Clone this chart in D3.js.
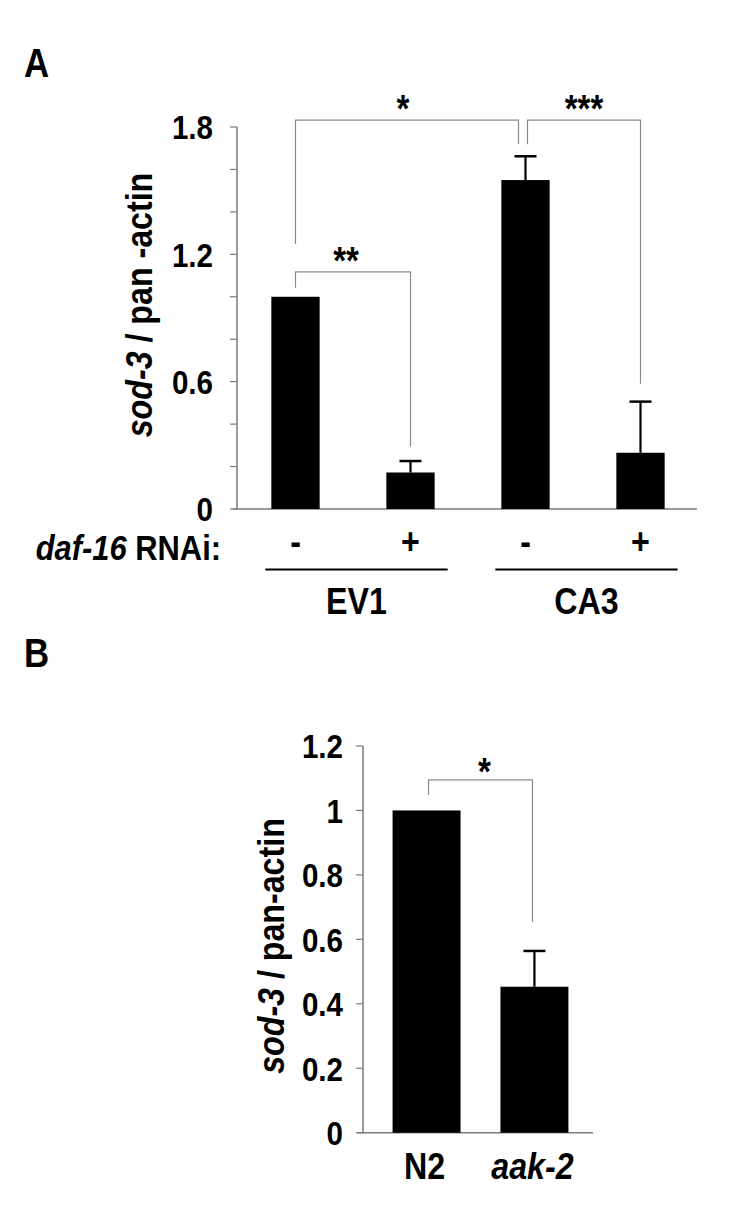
<!DOCTYPE html>
<html>
<head>
<meta charset="utf-8">
<script src="https://cdn.jsdelivr.net/npm/d3@7"></script>
<style>
  html, body { margin: 0; padding: 0; background: #fff; }
  svg { display: block; }
  text { font-family: "Liberation Sans", Arial, Helvetica, sans-serif; font-weight: bold; fill: #000; }
</style>
</head>
<body>
<svg id="chart" width="750" height="1225"></svg>
<script>
// ---------- DATA ----------
// Panel A
const conditionsA = ["EV1 -", "EV1 +", "CA3 -", "CA3 +"];
const rnaiSignsA = ["-", "+", "-", "+"];
const strainsA = ["EV1", "CA3"];
const meansA = [1.0, 0.172, 1.55, 0.265];
const errorsA = [0, 0.054, 0.112, 0.241];
const ticksA = [0, 0.6, 1.2, 1.8];
const minorTicksA = [0, 0.2, 0.4, 0.6, 0.8, 1.0, 1.2, 1.4, 1.6, 1.8];
const sigLabelsA = ["**", "*", "***"];
const sigPairsA = [[0, 1], [0, 2], [2, 3]];

// Panel B
const strainsB = ["N2", "aak-2"];
const meansB = [1.0, 0.453];
const errorsB = [0, 0.111];
const ticksB = [0, 0.2, 0.4, 0.6, 0.8, 1, 1.2];
const sigLabelsB = ["*"];
const sigPairsB = [[0, 1]];

// ---------- DRAW ----------
const svg = d3.select("#chart");
const axisColor = "#7a7a7a";
const SX = 0.87;               // horizontal condensing (Helvetica Condensed look)
const fontTick = 34, fontLabel = 37, fontStar = 38;
const tf = (x, y, rot) => `translate(${x},${y})` + (rot ? ` rotate(${rot})` : "") + ` scale(${SX},1)`;

// Panel letters
svg.append("text").attr("transform", tf(24, 77)).attr("font-size", 40).text("A");
svg.append("text").attr("transform", tf(24, 667)).attr("font-size", 40).text("B");

// ===== Panel A =====
const yA = d3.scaleLinear().domain([0, 1.8]).range([509, 127]);
const xA = d3.scaleBand().domain(conditionsA).range([238, 698]).paddingInner(0.58).paddingOuter(0.29);
const axisXA = 237;
const cxA = d => xA(d) + xA.bandwidth() / 2;

const gA = svg.append("g");
gA.append("line").attr("x1", axisXA).attr("x2", axisXA).attr("y1", yA(1.8)).attr("y2", yA(0))
  .attr("stroke", axisColor).attr("stroke-width", 1.5);
gA.append("line").attr("x1", axisXA - 4).attr("x2", 697).attr("y1", yA(0)).attr("y2", yA(0))
  .attr("stroke", axisColor).attr("stroke-width", 1.5);
gA.selectAll(".mt").data(minorTicksA).join("line")
  .attr("x1", axisXA - 7).attr("x2", axisXA).attr("y1", d => yA(d)).attr("y2", d => yA(d))
  .attr("stroke", axisColor).attr("stroke-width", 1.2);
gA.selectAll(".tl").data(ticksA).join("text")
  .attr("transform", d => tf(axisXA - 24, yA(d))).attr("dy", "0.36em")
  .attr("text-anchor", "end").attr("font-size", fontTick)
  .text(d => d3.format("")(d));

gA.selectAll(".bar").data(conditionsA).join("rect")
  .attr("x", d => xA(d)).attr("width", xA.bandwidth())
  .attr("y", (d, i) => yA(meansA[i])).attr("height", (d, i) => yA(0) - yA(meansA[i]))
  .attr("fill", "#000");
conditionsA.forEach((c, i) => {
  if (errorsA[i] <= 0) return;
  const cx = cxA(c);
  gA.append("line").attr("x1", cx).attr("x2", cx).attr("y1", yA(meansA[i])).attr("y2", yA(meansA[i] + errorsA[i]))
    .attr("stroke", "#000").attr("stroke-width", 2.2);
  gA.append("line").attr("x1", cx - 11).attr("x2", cx + 11).attr("y1", yA(meansA[i] + errorsA[i])).attr("y2", yA(meansA[i] + errorsA[i]))
    .attr("stroke", "#000").attr("stroke-width", 2.5);
});

const bracketLevelsA = [
  { top: 1.117, leftEnd: 1.042, rightEnd: 0.294, labelX: -7 },
  { top: 1.832, leftEnd: 1.249, rightEnd: 1.719, labelX: -4, rightShift: -7 },
  { top: 1.832, leftEnd: 1.719, rightEnd: 0.59, labelX: 0, leftShift: 2 }
];
sigPairsA.forEach((p, k) => {
  const L = bracketLevelsA[k];
  const x1 = cxA(conditionsA[p[0]]) + (L.leftShift || 0);
  const x2 = cxA(conditionsA[p[1]]) + (L.rightShift || 0);
  const path = d3.path();
  path.moveTo(x1, yA(L.leftEnd));
  path.lineTo(x1, yA(L.top));
  path.lineTo(x2, yA(L.top));
  path.lineTo(x2, yA(L.rightEnd));
  gA.append("path").attr("d", path.toString()).attr("fill", "none")
    .attr("stroke", "#8a8a8a").attr("stroke-width", 1.2);
  gA.append("text").attr("transform", tf((x1 + x2) / 2 + L.labelX, yA(L.top) + 2))
    .attr("text-anchor", "middle").attr("font-size", fontStar).text(sigLabelsA[k]);
});

gA.append("text").attr("transform", tf(221, 560)).attr("text-anchor", "end").attr("font-size", 35.5)
  .call(t => {
    t.append("tspan").attr("font-style", "italic").text("daf-16");
    t.append("tspan").text(" RNAi:");
  });
gA.selectAll(".sign").data(conditionsA).join("text")
  .attr("transform", d => tf(cxA(d), 554))
  .attr("text-anchor", "middle").attr("font-size", fontLabel)
  .text((d, i) => rnaiSignsA[i]);

strainsA.forEach((s, j) => {
  const a = conditionsA[2 * j], b = conditionsA[2 * j + 1];
  const x1 = xA(a) - 6, x2 = xA(b) + xA.bandwidth() + 13;
  gA.append("line").attr("x1", x1).attr("x2", x2).attr("y1", 569.5).attr("y2", 569.5)
    .attr("stroke", "#000").attr("stroke-width", 2);
  gA.append("text").attr("transform", tf((x1 + x2) / 2, 614)).attr("text-anchor", "middle")
    .attr("font-size", fontLabel).text(s);
});

gA.append("text").attr("transform", tf(139, 305, -90))
  .attr("text-anchor", "middle").attr("dominant-baseline", "central").attr("font-size", fontLabel)
  .call(t => {
    t.append("tspan").attr("font-style", "italic").text("sod-3");
    t.append("tspan").text(" / pan -actin");
  });

// ===== Panel B =====
const yB = d3.scaleLinear().domain([0, 1.2]).range([1132.7, 746]);
const xB = d3.scaleBand().domain(strainsB).range([371, 590]).paddingInner(0.37).paddingOuter(0.2);
const axisXB = 363;
const cxB = d => xB(d) + xB.bandwidth() / 2;
const gB = svg.append("g");

gB.append("line").attr("x1", axisXB).attr("x2", axisXB).attr("y1", yB(1.2)).attr("y2", yB(0))
  .attr("stroke", axisColor).attr("stroke-width", 1.5);
gB.append("line").attr("x1", axisXB - 6).attr("x2", 593).attr("y1", yB(0)).attr("y2", yB(0))
  .attr("stroke", axisColor).attr("stroke-width", 1.5);
gB.selectAll(".mt").data(ticksB).join("line")
  .attr("x1", axisXB - 7).attr("x2", axisXB).attr("y1", d => yB(d)).attr("y2", d => yB(d))
  .attr("stroke", axisColor).attr("stroke-width", 1.2);
gB.selectAll(".tl").data(ticksB).join("text")
  .attr("transform", d => tf(axisXB - 20, yB(d))).attr("dy", "0.36em")
  .attr("text-anchor", "end").attr("font-size", fontTick)
  .text(d => d3.format("")(d));

gB.selectAll(".bar").data(strainsB).join("rect")
  .attr("x", d => xB(d)).attr("width", xB.bandwidth())
  .attr("y", (d, i) => yB(meansB[i])).attr("height", (d, i) => yB(0) - yB(meansB[i]))
  .attr("fill", "#000");
strainsB.forEach((s, i) => {
  if (errorsB[i] <= 0) return;
  const cx = cxB(s);
  gB.append("line").attr("x1", cx).attr("x2", cx).attr("y1", yB(meansB[i])).attr("y2", yB(meansB[i] + errorsB[i]))
    .attr("stroke", "#000").attr("stroke-width", 2.2);
  gB.append("line").attr("x1", cx - 11).attr("x2", cx + 11).attr("y1", yB(meansB[i] + errorsB[i])).attr("y2", yB(meansB[i] + errorsB[i]))
    .attr("stroke", "#000").attr("stroke-width", 2.5);
});

const bracketLevelsB = [{ top: 1.095, leftEnd: 1.048, rightEnd: 0.654 }];
sigPairsB.forEach((p, k) => {
  const L = bracketLevelsB[k];
  const x1 = cxB(strainsB[p[0]]) + 2;
  const x2 = cxB(strainsB[p[1]]) - 2;
  const path = d3.path();
  path.moveTo(x1, yB(L.leftEnd));
  path.lineTo(x1, yB(L.top));
  path.lineTo(x2, yB(L.top));
  path.lineTo(x2, yB(L.rightEnd));
  gB.append("path").attr("d", path.toString()).attr("fill", "none")
    .attr("stroke", "#8a8a8a").attr("stroke-width", 1.2);
  gB.append("text").attr("transform", tf((x1 + x2) / 2 + 4, yB(L.top) + 5))
    .attr("text-anchor", "middle").attr("font-size", fontStar).text(sigLabelsB[k]);
});

gB.selectAll(".xl").data(strainsB).join("text")
  .attr("transform", d => tf(cxB(d) - 2, 1179))
  .attr("text-anchor", "middle").attr("font-size", fontLabel)
  .attr("font-style", (d, i) => i === 1 ? "italic" : "normal")
  .text(d => d);

gB.append("text").attr("transform", tf(271, 946, -90))
  .attr("text-anchor", "middle").attr("dominant-baseline", "central").attr("font-size", fontLabel)
  .call(t => {
    t.append("tspan").attr("font-style", "italic").text("sod-3");
    t.append("tspan").text(" / pan-actin");
  });
</script>
</body>
</html>
